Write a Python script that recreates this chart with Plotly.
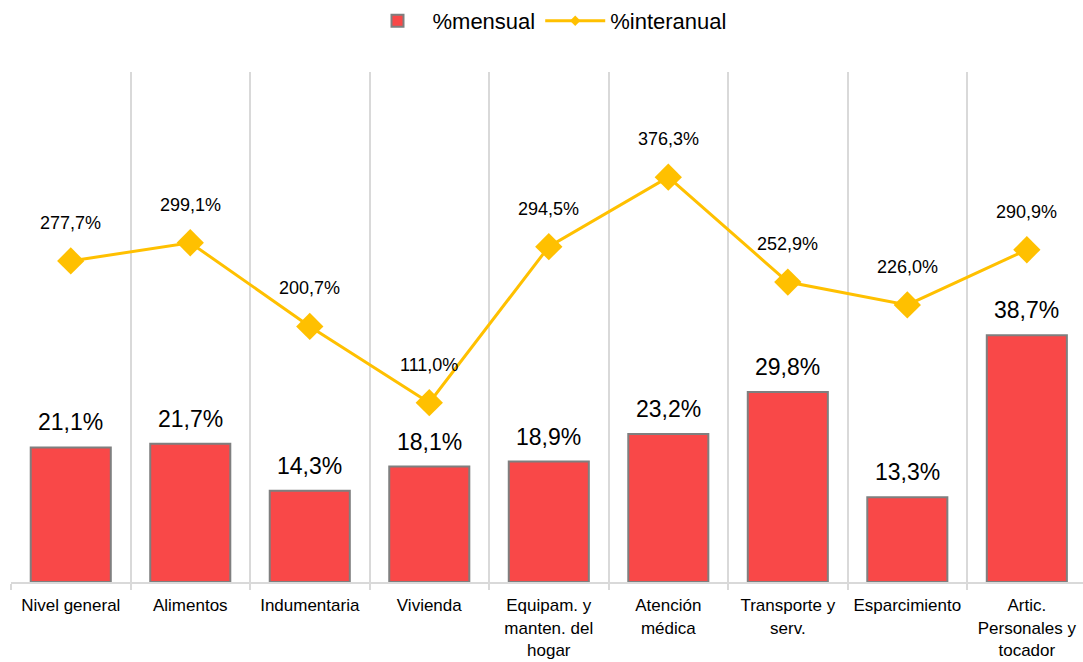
import plotly.graph_objects as go

categories = [
    "Nivel general",
    "Alimentos",
    "Indumentaria",
    "Vivienda",
    "Equipam. y<br>manten. del<br>hogar",
    "Atención<br>médica",
    "Transporte y<br>serv.",
    "Esparcimiento",
    "Artic.<br>Personales y<br>tocador",
]
mensual = [21.1, 21.7, 14.3, 18.1, 18.9, 23.2, 29.8, 13.3, 38.7]
interanual = [277.7, 299.1, 200.7, 111.0, 294.5, 376.3, 252.9, 226.0, 290.9]

RED = "#F94848"
YELLOW = "#FFC000"
GRID = "#D9D9D9"
FONT = "Liberation Sans, Arial, sans-serif"


def fmt(v):
    return f"{v:.1f}%".replace(".", ",")


fig = go.Figure()

# Monthly bars (primary axis)
fig.add_trace(
    go.Bar(
        x=categories,
        y=mensual,
        name="%mensual",
        width=0.67,
        marker=dict(color=RED, line=dict(color="#7F7F7F", width=2)),
        hoverinfo="skip",
    )
)

# Year-on-year line (secondary axis)
fig.add_trace(
    go.Scatter(
        x=categories,
        y=interanual,
        name="%interanual",
        yaxis="y2",
        mode="lines+markers",
        line=dict(color=YELLOW, width=3),
        marker=dict(symbol="diamond", size=21, color=YELLOW),
        showlegend=False,
        hoverinfo="skip",
    )
)

# legend-only entry with a small marker, like the reference swatch
fig.add_trace(
    go.Scatter(
        x=[None],
        y=[None],
        name="%interanual",
        yaxis="y2",
        mode="lines+markers",
        line=dict(color=YELLOW, width=3),
        marker=dict(symbol="diamond", size=8, color=YELLOW),
    )
)

# Labels
for cat, v in zip(categories, mensual):
    fig.add_annotation(
        x=cat, y=v, xref="x", yref="y",
        text=fmt(v), showarrow=False,
        yanchor="bottom", yshift=10,
        font=dict(size=23, color="#000000", family=FONT),
    )

for cat, v in zip(categories, interanual):
    fig.add_annotation(
        x=cat, y=v, xref="x", yref="y2",
        text=fmt(v), showarrow=False,
        yshift=38,
        font=dict(size=18, color="#000000", family=FONT),
    )

fig.update_layout(
    width=1083,
    height=662,
    paper_bgcolor="#FFFFFF",
    plot_bgcolor="#FFFFFF",
    margin=dict(l=11, r=0, t=72, b=80),
    font=dict(family=FONT, color="#000000"),
    showlegend=True,
    legend=dict(
        orientation="h",
        x=0.5,
        y=1.0,
        xanchor="center",
        yanchor="top",
        yref="container",
        font=dict(size=22),
        itemwidth=60,
    ),
    xaxis=dict(
        type="category",
        range=[-0.5, 8.47],
        tickson="boundaries",
        tickangle=0,
        automargin=False,
        ticklabelstandoff=7,
        showgrid=True,
        gridcolor=GRID,
        gridwidth=2,
        showline=True,
        linecolor=GRID,
        linewidth=2,
        ticks="outside",
        ticklen=6,
        tickcolor=GRID,
        tickwidth=2,
        tickfont=dict(size=17),
    ),
    yaxis=dict(
        range=[0, 80],
        visible=False,
        showgrid=False,
        zeroline=False,
    ),
    yaxis2=dict(
        range=[-100, 500],
        overlaying="y",
        side="right",
        visible=False,
        showgrid=False,
        zeroline=False,
    ),
)

# drop the default body margin so the figure fills the window exactly
fig.write_html(
    "out.html",
    config={"displayModeBar": False},
    post_script="document.body.style.margin = '0';",
)
